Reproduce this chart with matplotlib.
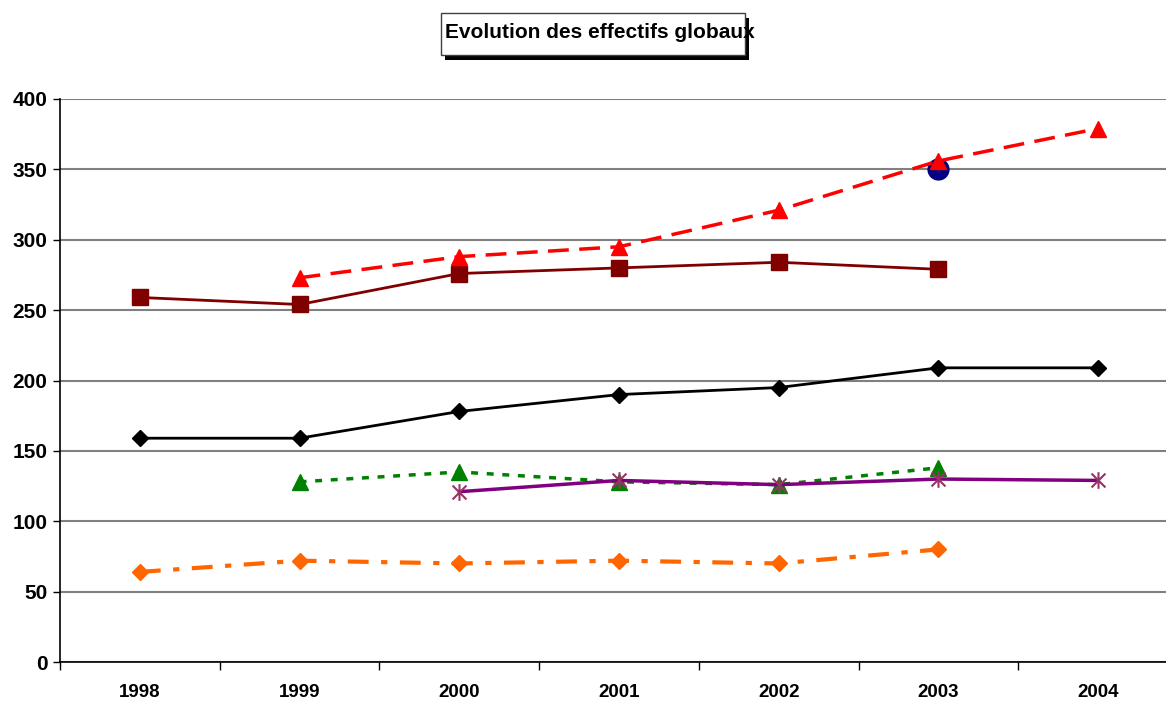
import matplotlib.pyplot as plt
from matplotlib.patches import Rectangle
from matplotlib.path import Path
import numpy as np

plt.rcParams['font.family'] = ['Liberation Sans', 'DejaVu Sans']

#--------------------
# données
annees = ['1998', '1999', '2000', '2001', '2002', '2003', '2004']
nan = np.nan

serie_noire = [159, 159, 178, 190, 195, 209, 209]
serie_bordeaux = [259, 254, 276, 280, 284, 279, nan]
serie_rouge = [nan, 273, 288, 295, 321, 356, 379]
point_bleu = [nan, nan, nan, nan, nan, 350, nan]
serie_verte = [nan, 128, 135, 128, 126, 138, nan]
serie_violette = [nan, nan, 121, 129, 126, 130, 129]
serie_orange = [64, 72, 70, 72, 70, 80, nan]
#--------------------

W, H = 1166, 702
fig = plt.figure(figsize=(W / 100, H / 100), dpi=100)
ax = fig.add_axes([60 / W, 40 / H, (1178 - 60) / W, 563 / H])

x = np.arange(len(annees))

def masked(v):
    v = np.array(v, dtype=float)
    return np.ma.masked_invalid(v)

# étoile façon Excel : un X et un trait vertical
etoile = Path([(-1, -1), (1, 1), (-1, 1), (1, -1), (0, -1.2), (0, 1.2)],
              [Path.MOVETO, Path.LINETO, Path.MOVETO, Path.LINETO,
               Path.MOVETO, Path.LINETO])

ax.plot(x, masked(serie_noire), color='black', lw=2, marker='D', ms=8, zorder=3)
ax.plot(x, masked(serie_bordeaux), color='#800000', lw=2, marker='s', ms=12, zorder=3)
ax.plot(x, masked(point_bleu), color='#000080', lw=0, marker='o', ms=15, zorder=3)
ax.plot(x, masked(serie_rouge), color='#FF0000', lw=2.5, ls=(0, (6, 3)),
        marker='^', ms=11, zorder=4)
ax.plot(x, masked(serie_verte), color='#008000', lw=2.5, ls=(0, (2, 2.5)),
        marker='^', ms=11, zorder=3)
ax.plot(x, masked(serie_violette), color='#800080', lw=2.5, marker=etoile,
        ms=12, mec='#993366', mfc='none', mew=1.5, zorder=4)
ax.plot(x, masked(serie_orange), color='#FF6600', lw=3, ls=(0, (5, 3, 1.5, 3)),
        marker='D', ms=8, zorder=3)

ax.set_xlim(-0.5, 6.5)
ax.set_ylim(0, 400)
ax.set_yticks(range(0, 401, 50))
ax.yaxis.grid(True, color='#808080', lw=1.5)
ax.set_axisbelow(True)

ax.set_xticks(x)
ax.set_xticklabels(annees)
ax.set_xticks(np.arange(-0.5, 7, 1), minor=True)
ax.tick_params(axis='x', which='major', length=0, pad=16)
ax.tick_params(axis='x', which='minor', length=6, direction='out', width=1)
ax.tick_params(axis='y', length=5, width=1, pad=4)
for lab in ax.get_xticklabels():
    lab.set_fontsize(13.5)
    lab.set_fontweight('bold')
for lab in ax.get_yticklabels():
    lab.set_fontsize(15)
    lab.set_fontweight('bold')

for s in ['top', 'right']:
    ax.spines[s].set_visible(False)
ax.spines['left'].set_linewidth(1.2)
ax.spines['bottom'].set_linewidth(1.2)

# titre encadré avec ombre (le texte déborde du cadre comme sur l'original)
bx0, bx1, by0, by1 = 441, 745, 13, 55
fig.patches.append(Rectangle(((bx0 + 4) / W, 1 - (by1 + 5) / H), (bx1 - bx0) / W,
                             (by1 - by0) / H, transform=fig.transFigure,
                             fc='black', ec='none', zorder=1))
fig.patches.append(Rectangle((bx0 / W, 1 - by1 / H), (bx1 - bx0) / W,
                             (by1 - by0) / H, transform=fig.transFigure,
                             fc='white', ec='#404040', lw=1, zorder=2))
fig.text(445 / W, 1 - 33 / H, 'Evolution des effectifs globaux', ha='left',
         va='center', fontsize=15, fontweight='bold', zorder=3)

fig.savefig('out.png', dpi=100)
